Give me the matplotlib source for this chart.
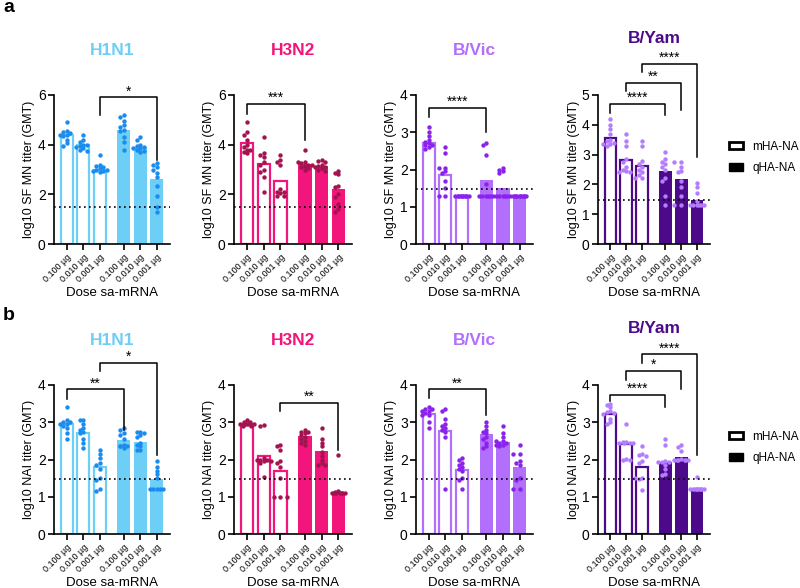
import matplotlib
matplotlib.use('Agg')
import matplotlib.pyplot as plt
from matplotlib.patches import Patch

plt.rcParams['font.family'] = ['Liberation Sans', 'DejaVu Sans']

# ---- data ----
doses = ['0.100 µg', '0.010 µg', '0.001 µg', '0.100 µg', '0.010 µg', '0.001 µg']
groups = ['mHA-NA', 'mHA-NA', 'mHA-NA', 'qHA-NA', 'qHA-NA', 'qHA-NA']
viruses = ['H1N1', 'H3N2', 'B/Vic', 'B/Yam']
lod = 1.477

# a: SF MN titers
sf_h1n1_gmt = [4.40, 4.00, 3.00, 4.58, 3.92, 2.60]
sf_h1n1_pts = [
    [4.9, 4.55, 4.5, 4.45, 4.4, 4.4, 4.35, 4.2, 4.05, 3.95],
    [4.4, 4.2, 4.1, 4.0, 4.0, 3.95, 3.9, 3.85, 3.8, 3.75],
    [3.6, 3.2, 3.15, 3.1, 3.05, 3.0, 3.0, 2.95, 2.95, 2.9],
    [5.2, 5.1, 4.95, 4.8, 4.7, 4.6, 4.55, 4.3, 4.1, 3.8],
    [4.3, 4.2, 4.0, 3.95, 3.9, 3.85, 3.85, 3.8, 3.75, 3.7],
    [3.25, 3.2, 3.1, 3.0, 2.85, 2.7, 2.35, 1.95, 1.5, 1.3],
]
sf_h3n2_gmt = [4.05, 3.23, 2.52, 3.22, 3.15, 2.20]
sf_h3n2_pts = [
    [4.9, 4.5, 4.4, 4.2, 4.0, 3.9, 3.8, 3.8, 3.7, 3.65],
    [4.3, 3.65, 3.6, 3.5, 3.3, 3.2, 3.0, 2.9, 2.7, 2.1],
    [3.6, 3.4, 3.3, 3.2, 2.2, 2.1, 2.1, 2.05, 1.95, 1.95],
    [3.8, 3.3, 3.3, 3.25, 3.2, 3.2, 3.15, 3.1, 3.05, 3.0],
    [3.4, 3.35, 3.3, 3.2, 3.15, 3.1, 3.1, 3.05, 3.0, 2.95],
    [2.95, 2.85, 2.8, 2.35, 2.3, 2.0, 1.9, 1.6, 1.4, 1.3],
]
sf_bvic_gmt = [2.70, 1.85, 1.30, 1.72, 1.50, 1.30]
sf_bvic_pts = [
    [3.15, 3.0, 2.9, 2.8, 2.75, 2.7, 2.65, 2.65, 2.6, 2.55],
    [2.6, 2.45, 2.05, 2.05, 1.95, 1.9, 1.7, 1.5, 1.3, 1.3],
    [1.3, 1.3, 1.3, 1.3, 1.3, 1.3, 1.3, 1.3, 1.3, 1.3],
    [2.7, 2.65, 2.4, 1.6, 1.3, 1.3, 1.3, 1.3, 1.3, 1.3],
    [2.05, 2.0, 1.95, 1.9, 1.3, 1.3, 1.3, 1.3, 1.3, 1.3],
    [1.3, 1.3, 1.3, 1.3, 1.3, 1.3, 1.3, 1.3, 1.3, 1.3],
]
sf_byam_gmt = [3.57, 2.82, 2.63, 2.46, 2.18, 1.48]
sf_byam_pts = [
    [4.2, 4.0, 3.85, 3.7, 3.5, 3.45, 3.4, 3.35, 3.35, 3.3],
    [3.7, 3.45, 3.3, 2.85, 2.75, 2.6, 2.5, 2.45, 2.4, 2.4],
    [3.45, 3.3, 2.8, 2.7, 2.6, 2.5, 2.4, 2.3, 2.2, 2.2],
    [3.1, 2.85, 2.75, 2.7, 2.6, 2.5, 2.2, 2.1, 1.6, 1.3],
    [2.75, 2.75, 2.6, 2.45, 2.4, 2.1, 1.9, 1.6, 1.3, 1.3],
    [2.05, 1.9, 1.7, 1.45, 1.3, 1.3, 1.3, 1.3, 1.3, 1.3],
]

# b: NAI titers
nai_h1n1_gmt = [2.95, 2.70, 1.80, 2.52, 2.48, 1.48]
nai_h1n1_pts = [
    [3.4, 3.05, 3.0, 3.0, 2.95, 2.95, 2.9, 2.85, 2.7, 2.55],
    [3.05, 3.05, 2.95, 2.85, 2.8, 2.75, 2.7, 2.55, 2.45, 2.3],
    [2.25, 2.15, 2.05, 1.9, 1.85, 1.75, 1.5, 1.45, 1.2, 1.15],
    [2.85, 2.8, 2.7, 2.65, 2.55, 2.4, 2.35, 2.35, 2.35, 2.3],
    [2.75, 2.75, 2.7, 2.65, 2.6, 2.45, 2.4, 2.35, 2.25, 2.25],
    [1.95, 1.8, 1.7, 1.6, 1.5, 1.2, 1.2, 1.2, 1.2, 1.2],
]
nai_h3n2_gmt = [2.96, 2.10, 1.69, 2.62, 2.23, 1.13]
nai_h3n2_pts = [
    [3.05, 3.0, 3.0, 2.95, 2.95, 2.95, 2.95, 2.95, 2.9, 2.9],
    [2.92, 2.9, 2.05, 2.0, 2.0, 2.0, 1.95, 1.95, 1.9, 1.52],
    [2.4, 2.35, 2.25, 1.95, 1.9, 1.8, 1.5, 1.0, 1.0, 1.0],
    [2.8, 2.75, 2.75, 2.7, 2.65, 2.6, 2.55, 2.5, 2.45, 2.4],
    [2.85, 2.55, 2.45, 2.35, 2.2, 2.1, 2.0, 1.9, 1.85, 1.85],
    [2.12, 1.15, 1.12, 1.1, 1.1, 1.1, 1.1, 1.1, 1.1, 1.1],
]
nai_bvic_gmt = [3.22, 2.77, 1.72, 2.69, 2.48, 1.80]
nai_bvic_pts = [
    [3.4, 3.35, 3.35, 3.3, 3.3, 3.25, 3.2, 3.2, 3.0, 2.85],
    [3.35, 3.3, 3.1, 2.95, 2.9, 2.85, 2.8, 2.75, 2.6, 1.2],
    [2.05, 2.0, 1.9, 1.85, 1.8, 1.75, 1.7, 1.5, 1.45, 1.2],
    [3.0, 2.9, 2.8, 2.75, 2.7, 2.6, 2.55, 2.45, 2.35, 2.3],
    [2.9, 2.7, 2.6, 2.5, 2.5, 2.45, 2.45, 2.4, 2.4, 2.35],
    [2.4, 2.15, 2.15, 1.95, 1.9, 1.85, 1.5, 1.45, 1.2, 1.2],
]
nai_byam_gmt = [3.22, 2.42, 1.80, 1.93, 2.07, 1.23]
nai_byam_pts = [
    [3.5, 3.45, 3.4, 3.3, 3.28, 3.25, 3.22, 3.1, 3.0, 2.95],
    [2.95, 2.47, 2.46, 2.45, 2.45, 2.44, 2.43, 2.02, 2.0, 2.0],
    [2.35, 2.15, 2.12, 2.1, 1.95, 1.9, 1.5, 1.5, 1.48, 1.18],
    [2.55, 2.38, 1.95, 1.94, 1.93, 1.92, 1.85, 1.75, 1.62, 1.58],
    [2.38, 2.33, 2.22, 2.02, 2.0, 2.0, 1.99, 1.98, 1.98, 1.98],
    [1.52, 1.2, 1.2, 1.2, 1.2, 1.2, 1.2, 1.2, 1.2, 1.2],
]

# significance brackets: (group i, group j, top y, left leg end, right leg end, label)
sf_brackets = [
    [(2, 5, 5.9, 5.2, 3.4, '*')],
    [(0, 3, 5.63, 5.25, 4.18, '***')],
    [(0, 3, 3.66, 3.41, 3.0, '****')],
    [(0, 3, 4.69, 4.38, 4.32, '****'), (1, 4, 5.4, 5.13, 4.49, '**'),
     (2, 5, 6.05, 5.77, 2.93, '****')],
]
nai_brackets = [
    [(0, 3, 3.88, 3.63, 2.79, '**'), (2, 5, 4.6, 4.38, 2.13, '*')],
    [(2, 5, 3.53, 3.29, 2.26, '**')],
    [(0, 3, 3.88, 3.64, 3.2, '**')],
    [(0, 3, 3.73, 3.58, 3.41, '****'), (1, 4, 4.38, 4.13, 3.89, '*'),
     (2, 5, 4.82, 4.6, 2.13, '****')],
]

sf_ymax = [6, 6, 4, 5]
sf_yticks = [[0, 2, 4, 6], [0, 2, 4, 6], [0, 1, 2, 3, 4], [0, 1, 2, 3, 4, 5]]
nai_ymax = [4, 4, 4, 4]
nai_yticks = [[0, 1, 2, 3, 4]] * 4

bar_colors = ['#6dcff6', '#f2157b', '#b26ffb', '#4c0a8a']
pt_colors = ['#1a8cf0', '#a3134f', '#8a22ec', '#b47cff']

# ---- layout (pixels in an 800x588 figure) ----
W, H = 800, 588
positions = [0, 1, 2, 3.45, 4.45, 5.45]
lefts = [54, 234, 416, 598]
widths = [116, 118, 117, 112]
rows_px = [(95, 244), (385, 534)]

fig = plt.figure(figsize=(8, 5.88), dpi=100)


def swarm(ax, x0, vals, step=3.4, maxoff=6.8):
    trans = ax.transData
    inv = trans.inverted()
    cands = [0.0]
    k = 1
    while k * step <= maxoff + 1e-6:
        cands += [-k * step, k * step]
        k += 1
    placed, xs = [], []
    for v in vals:
        cx, cy = trans.transform((x0, v))
        pick = None
        for c in cands:
            if all((cx + c - px) ** 2 + (cy - py) ** 2 >= step ** 2 for px, py in placed):
                pick = c
                break
        if pick is None:
            pick = cands[len(placed) % len(cands)] * 0.6
        placed.append((cx + pick, cy))
        xs.append(inv.transform((cx + pick, cy))[0])
    return xs


def draw_panel(ax, gmt, pts, bcol, pcol, ymax, yticks, brackets, ylabel, title, title_y):
    ax.set_xlim(-0.77, 6.26)
    ax.set_ylim(0, ymax)
    for i, (x, g) in enumerate(zip(positions, gmt)):
        if i < 3:
            ax.bar(x, g, width=0.72, facecolor='white', edgecolor=bcol, linewidth=1.6, zorder=1)
        else:
            ax.bar(x, g, width=0.8, color=bcol, linewidth=0, zorder=1)
    for x, vals in zip(positions, pts):
        xs = swarm(ax, x, vals)
        ax.scatter(xs, vals, s=10, color=pcol, linewidths=0, zorder=3, clip_on=False)
    ax.axhline(lod, color='black', linestyle=(0, (1, 2)), linewidth=1.2, zorder=4)

    for i, j, top, yl, yr, lab in brackets:
        xi, xj = positions[i], positions[j]
        ax.plot([xi, xi, xj, xj], [yl, top, top, yr], color='black', linewidth=1.1,
                clip_on=False, zorder=5)
        ax.annotate(lab, xy=((xi + xj) / 2, top), xytext=(0, 1.5), textcoords='offset points',
                    ha='center', va='baseline', fontsize=10, annotation_clip=False)

    ax.spines['top'].set_visible(False)
    ax.spines['right'].set_visible(False)
    ax.spines['left'].set_linewidth(1.2)
    ax.spines['bottom'].set_linewidth(1.2)
    ax.set_yticks(yticks)
    ax.set_xticks(positions)
    ax.set_xticklabels(doses, rotation=45, ha='right', rotation_mode='anchor', fontsize=6.5)
    ax.tick_params(axis='y', length=4, width=1.2, labelsize=10, pad=2)
    ax.tick_params(axis='x', length=4, width=1.2, pad=2)
    ax.set_ylabel(ylabel, fontsize=9)
    ax.yaxis.set_label_coords(-0.16, 0.5)
    ax.set_xlabel('Dose sa-mRNA', fontsize=9.5)
    ax.xaxis.set_label_coords(0.5, -0.29)
    ax.text(0.5, title_y, title, transform=ax.transAxes, ha='center', va='center',
            fontsize=12.5, fontweight='bold', color=bcol)


rows = [
    ('log10 SF MN titer (GMT)',
     [sf_h1n1_gmt, sf_h3n2_gmt, sf_bvic_gmt, sf_byam_gmt],
     [sf_h1n1_pts, sf_h3n2_pts, sf_bvic_pts, sf_byam_pts],
     sf_ymax, sf_yticks, sf_brackets),
    ('log10 NAI titer (GMT)',
     [nai_h1n1_gmt, nai_h3n2_gmt, nai_bvic_gmt, nai_byam_gmt],
     [nai_h1n1_pts, nai_h3n2_pts, nai_bvic_pts, nai_byam_pts],
     nai_ymax, nai_yticks, nai_brackets),
]

legend_handles = [Patch(facecolor='white', edgecolor='black', linewidth=2),
                  Patch(facecolor='black', edgecolor='black')]

for r, (ylabel, gmts, ptss, ymaxs, ytickss, brs) in enumerate(rows):
    top, bottom = rows_px[r]
    for c in range(4):
        ax = fig.add_axes([lefts[c] / W, 1 - bottom / H, widths[c] / W, (bottom - top) / H])
        ty = 1.38 if c == 3 else 1.3
        draw_panel(ax, gmts[c], ptss[c], bar_colors[c], pt_colors[c], ymaxs[c],
                   ytickss[c], brs[c], ylabel, viruses[c], ty)
        if c == 3:
            ax.legend(legend_handles, ['mHA-NA', 'qHA-NA'], loc='center left',
                      bbox_to_anchor=(1.17, 0.58), frameon=False, fontsize=8.5,
                      handlelength=1.15, handleheight=0.6, handletextpad=0.8,
                      borderaxespad=0, borderpad=0, labelspacing=0.8)

fig.text(3 / W, 1 - 8 / H, 'a', fontsize=14, fontweight='bold', va='center')
fig.text(3 / W, 1 - 315 / H, 'b', fontsize=14, fontweight='bold', va='center')

fig.savefig('out.png', dpi=100)
